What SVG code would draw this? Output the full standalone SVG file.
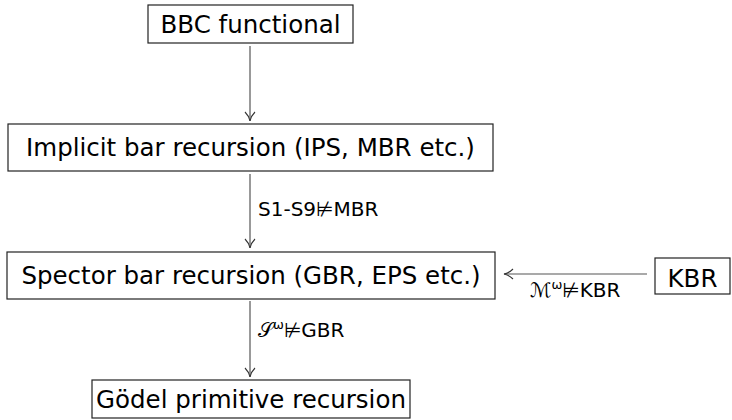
<svg xmlns="http://www.w3.org/2000/svg" width="732" height="420" viewBox="0 0 732 420">
<style>
.box{fill:#fff;stroke:#222;stroke-width:1.2}
.t{font-family:"DejaVu Sans","Liberation Sans",sans-serif;font-size:24.5px;fill:#000}
.l{font-family:"DejaVu Sans","Liberation Sans",sans-serif;font-size:20px;fill:#000}
.e{stroke:#555;stroke-width:1.2;fill:none}
</style>
<defs>
<marker id="v" markerWidth="12" markerHeight="12" refX="10" refY="6" orient="auto" markerUnits="userSpaceOnUse">
<path d="M1,1 Q5,5 10,6 Q5,7 1,11" fill="none" stroke="#333" stroke-width="1.1"/>
</marker>
</defs>
<g id="connectors">
<line class="e" x1="250" y1="46" x2="250" y2="121" marker-end="url(#v)"/>
<line class="e" x1="250" y1="174" x2="250" y2="248" marker-end="url(#v)"/>
<line class="e" x1="250" y1="301" x2="250" y2="377" marker-end="url(#v)"/>
<line class="e" x1="647" y1="274" x2="504" y2="274" marker-end="url(#v)"/>
<text class="l" x="258" y="216">S1-S9⊭MBR</text>
<text class="l" x="258" y="337"><tspan>𝒮</tspan><tspan font-size="13" dy="-8">ω</tspan><tspan dy="8">⊭GBR</tspan></text>
<text class="l" x="530" y="297"><tspan>ℳ</tspan><tspan font-size="13" dy="-8">ω</tspan><tspan dy="8">⊭KBR</tspan></text>
</g>
<g id="bbc">
<rect class="box" x="148" y="5" width="205" height="38"/>
<text class="t" x="250.5" y="33" text-anchor="middle">BBC functional</text>
</g>
<g id="implicit">
<rect class="box" x="8" y="124" width="485" height="47"/>
<text class="t" x="250.5" y="156" text-anchor="middle">Implicit bar recursion (IPS, MBR etc.)</text>
</g>
<g id="spector">
<rect class="box" x="7" y="252" width="488" height="47"/>
<text class="t" x="251" y="284" text-anchor="middle">Spector bar recursion (GBR, EPS etc.)</text>
</g>
<g id="kbr">
<rect class="box" x="655" y="258" width="75" height="36"/>
<text class="t" x="692.5" y="287" text-anchor="middle" font-size="29">KBR</text>
</g>
<g id="godel">
<rect class="box" x="92" y="380" width="318" height="38"/>
<text class="t" x="251" y="408" text-anchor="middle">Gödel primitive recursion</text>
</g>
</svg>
